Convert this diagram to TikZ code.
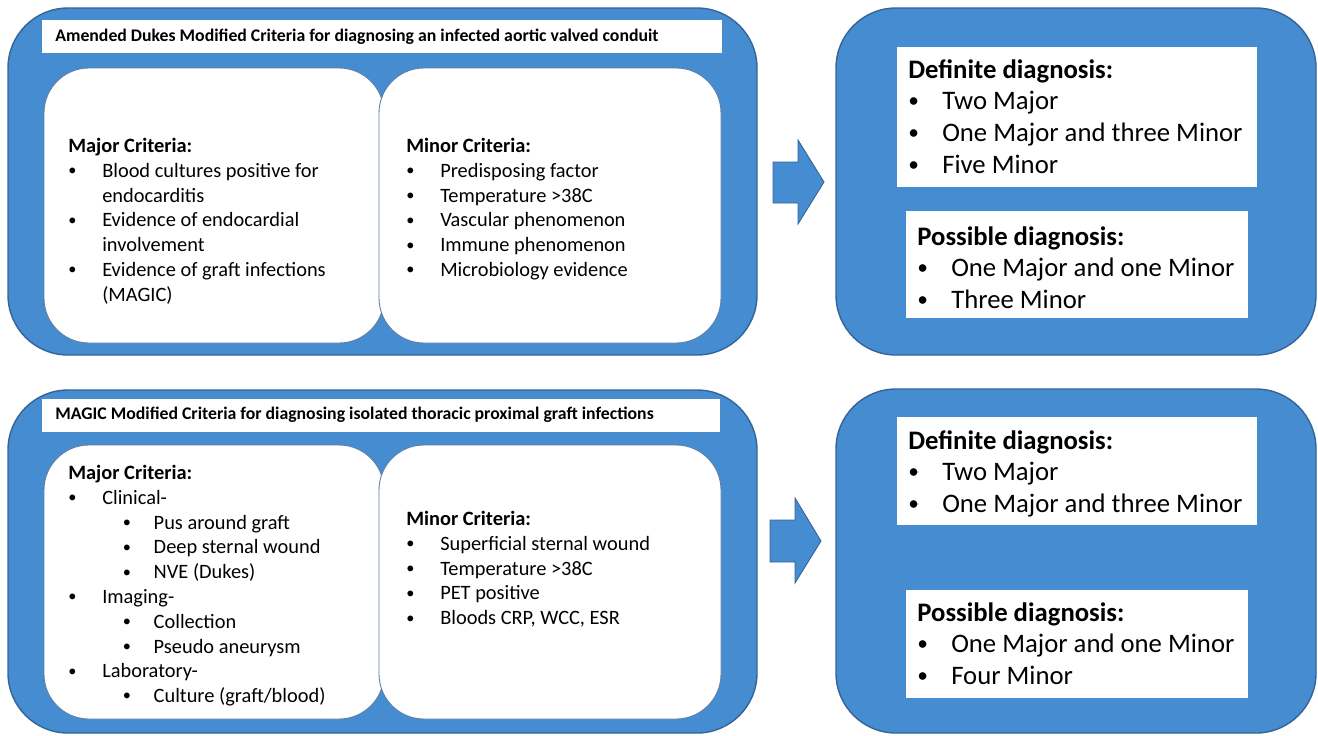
\documentclass[tikz,border=0pt]{standalone}
\usepackage{fontspec}
\setmainfont{Carlito}
\definecolor{panelblue}{RGB}{70,140,208}
\definecolor{paneledge}{RGB}{52,100,152}
\definecolor{cardedge}{RGB}{95,125,165}
\newcommand{\bulletmark}{\raisebox{0.08em}{\scalebox{0.8}{\textbullet}}}
\newcommand{\itm}[1]{\makebox[19.3pt][l]{\bulletmark}#1}
\newcommand{\subitm}[1]{\hspace*{31pt}\makebox[17.6pt][l]{\bulletmark}#1}
\newcommand{\cont}[1]{\hspace*{19.3pt}#1}
\begin{document}
\begin{tikzpicture}[x=0.02cm, y=-0.02cm,
    panel/.style={draw=paneledge, fill=panelblue, line width=0.8pt, rounded corners=1.2cm},
    card/.style={draw=cardedge, fill=white, line width=0.5pt, rounded corners=0.9cm},
    banner/.style={fill=white, draw=none},
    blockarrow/.style={draw=paneledge, fill=panelblue, line width=0.5pt},
    small/.style={anchor=north west, inner sep=0pt, align=left, font=\fontsize{11.6}{14.1}\selectfont},
    large/.style={anchor=north west, inner sep=0pt, align=left, font=\fontsize{15.2}{18.1}\selectfont},
    title/.style={anchor=west, inner sep=0pt, font=\bfseries\fontsize{10.1}{12}\selectfont}
  ]
  \useasboundingbox (0,0) rectangle (1318,735);

  % upper row: amended Dukes criteria
  \draw[panel] (8,8) rectangle (757,355);
  \fill[banner] (42,20) rectangle (722,53);
  \node[title] (dukestitle) at (55,37) {Amended Dukes Modified Criteria for diagnosing an infected aortic valved conduit};
  \draw[card] (44,68) rectangle (384,343);
  \draw[card] (379,68) rectangle (721,343);
  \node[small] (dukesmajor) at (68,138) {\textbf{Major Criteria:}\\
    \itm{Blood cultures positive for}\\
    \cont{endocarditis}\\
    \itm{Evidence of endocardial}\\
    \cont{involvement}\\
    \itm{Evidence of graft infections}\\
    \cont{(MAGIC)}};
  \node[small] (dukesminor) at (406,138) {\textbf{Minor Criteria:}\\
    \itm{Predisposing factor}\\
    \itm{Temperature >38C}\\
    \itm{Vascular phenomenon}\\
    \itm{Immune phenomenon}\\
    \itm{Microbiology evidence}};

  \draw[blockarrow] (773,162) -- (798,162) -- (798,140) -- (824,182) -- (798,224) -- (798,203) -- (773,203) -- cycle;

  \draw[panel] (836,8) rectangle (1316,355);
  \fill[banner] (897,47) rectangle (1257,187);
  \node[large] (dukesdefinite) at (908,59) {\textbf{Definite diagnosis:}\\
    \itm{Two Major}\\
    \itm{One Major and three Minor}\\
    \itm{Five Minor}};
  \fill[banner] (906,211) rectangle (1248,318);
  \node[large] (dukespossible) at (917,226) {\textbf{Possible diagnosis:}\\
    \itm{One Major and one Minor}\\
    \itm{Three Minor}};

  % lower row: MAGIC criteria
  \draw[panel] (8,390) rectangle (757,733);
  \fill[banner] (42,399) rectangle (720,432);
  \node[title] (magictitle) at (55,415) {MAGIC Modified Criteria for diagnosing isolated thoracic proximal graft infections};
  \draw[card] (44,445) rectangle (384,719);
  \draw[card] (379,445) rectangle (721,719);
  \node[small] (magicmajor) at (68,465) {\textbf{Major Criteria:}\\
    \itm{Clinical-}\\
    \subitm{Pus around graft}\\
    \subitm{Deep sternal wound}\\
    \subitm{NVE (Dukes)}\\
    \itm{Imaging-}\\
    \subitm{Collection}\\
    \subitm{Pseudo aneurysm}\\
    \itm{Laboratory-}\\
    \subitm{Culture (graft/blood)}};
  \node[small] (magicminor) at (406,511) {\textbf{Minor Criteria:}\\
    \itm{Superficial sternal wound}\\
    \itm{Temperature >38C}\\
    \itm{PET positive}\\
    \itm{Bloods CRP, WCC, ESR}};

  \draw[blockarrow] (770,520) -- (795,520) -- (795,498) -- (821,541) -- (795,583) -- (795,562) -- (770,562) -- cycle;

  \draw[panel] (836,389) rectangle (1316,733);
  \fill[banner] (897,417) rectangle (1257,525);
  \node[large] (magicdefinite) at (908,430) {\textbf{Definite diagnosis:}\\
    \itm{Two Major}\\
    \itm{One Major and three Minor}};
  \fill[banner] (906,590) rectangle (1248,698);
  \node[large] (magicpossible) at (917,602) {\textbf{Possible diagnosis:}\\
    \itm{One Major and one Minor}\\
    \itm{Four Minor}};
\end{tikzpicture}
\end{document}
